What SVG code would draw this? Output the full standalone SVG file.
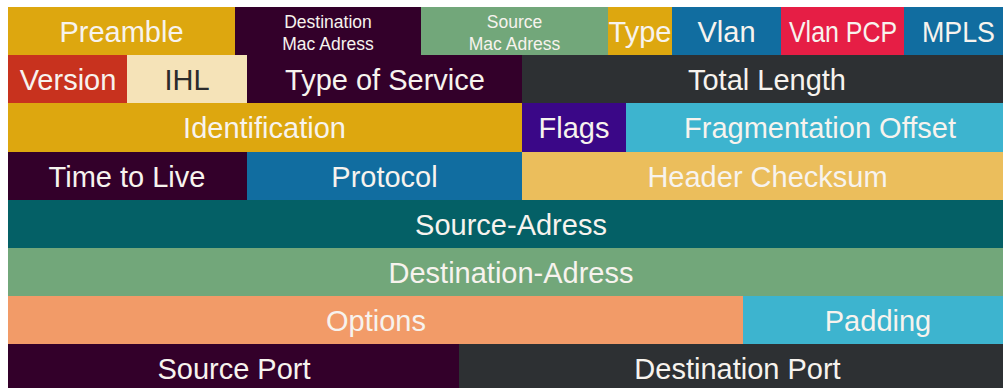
<svg xmlns="http://www.w3.org/2000/svg" width="1003" height="388" viewBox="0 0 1003 388">
<style>
text{font-family:"Liberation Sans",Arial,sans-serif;font-size:29px;fill:#f7f3ee;text-anchor:middle}
.s{font-size:17.5px}
.d{fill:#2b2b2b}
</style>
<rect width="1003" height="388" fill="#ffffff"/>
<g id="row1">
<g id="preamble"><rect x="8" y="7" width="227" height="48" fill="#dda70f"/><text x="121.5" y="42">Preamble</text></g>
<g id="dest-mac"><rect x="235" y="7" width="186" height="48" fill="#33002a"/><text class="s" x="328" y="28">Destination</text><text class="s" x="328" y="50">Mac Adress</text></g>
<g id="src-mac"><rect x="421" y="7" width="187" height="48" fill="#72a77a"/><text class="s" x="514.5" y="28">Source</text><text class="s" x="514.5" y="50">Mac Adress</text></g>
<g id="type"><rect x="608" y="7" width="64" height="48" fill="#dda70f"/><text x="640" y="42">Type</text></g>
<g id="vlan"><rect x="672" y="7" width="109" height="48" fill="#116da0"/><text x="726.5" y="42">Vlan</text></g>
<g id="vlan-pcp"><rect x="781" y="7" width="123" height="48" fill="#e61e45"/><text x="843" y="42" textLength="108" lengthAdjust="spacingAndGlyphs">Vlan PCP</text></g>
<g id="mpls"><rect x="904" y="7" width="99" height="48" fill="#116da0"/><text x="958.5" y="42" textLength="73" lengthAdjust="spacingAndGlyphs">MPLS</text></g>
</g>
<g id="row2">
<g id="version"><rect x="8" y="55" width="119" height="48" fill="#c8321e"/><text x="68" y="90">Version</text></g>
<g id="ihl"><rect x="127" y="55" width="120" height="48" fill="#f5e3b8"/><text class="d" x="187" y="90">IHL</text></g>
<g id="tos"><rect x="247" y="55" width="275" height="48" fill="#33002a"/><text x="385" y="90">Type of Service</text></g>
<g id="total-length"><rect x="522" y="55" width="481" height="48" fill="#2d3033"/><text x="767" y="90">Total Length</text></g>
</g>
<g id="row3">
<g id="identification"><rect x="8" y="103" width="514" height="49" fill="#dda70f"/><text x="264.5" y="138">Identification</text></g>
<g id="flags"><rect x="522" y="103" width="104" height="49" fill="#3a0787"/><text x="574" y="138">Flags</text></g>
<g id="frag-offset"><rect x="626" y="103" width="377" height="49" fill="#3db4cf"/><text x="820" y="138">Fragmentation Offset</text></g>
</g>
<g id="row4">
<g id="ttl"><rect x="8" y="152" width="239" height="48" fill="#33002a"/><text x="127" y="187">Time to Live</text></g>
<g id="protocol"><rect x="247" y="152" width="275" height="48" fill="#116da0"/><text x="384.5" y="187">Protocol</text></g>
<g id="checksum"><rect x="522" y="152" width="481" height="48" fill="#ebbe5c"/><text x="767.5" y="187">Header Checksum</text></g>
</g>
<g id="src-addr"><rect x="8" y="200" width="995" height="48" fill="#046066"/><text x="511" y="235">Source-Adress</text></g>
<g id="dst-addr"><rect x="8" y="248" width="995" height="48" fill="#72a77a"/><text x="511" y="283">Destination-Adress</text></g>
<g id="row7">
<g id="options"><rect x="8" y="296" width="735" height="48" fill="#f29b68"/><text x="376" y="331">Options</text></g>
<g id="padding"><rect x="743" y="296" width="260" height="48" fill="#3db4cf"/><text x="878" y="331">Padding</text></g>
</g>
<g id="row8">
<g id="src-port"><rect x="8" y="344" width="451" height="44" fill="#33002a"/><text x="234" y="379">Source Port</text></g>
<g id="dst-port"><rect x="459" y="344" width="544" height="44" fill="#2d3033"/><text x="737.5" y="379">Destination Port</text></g>
</g>
<g id="connectors"/>
</svg>
